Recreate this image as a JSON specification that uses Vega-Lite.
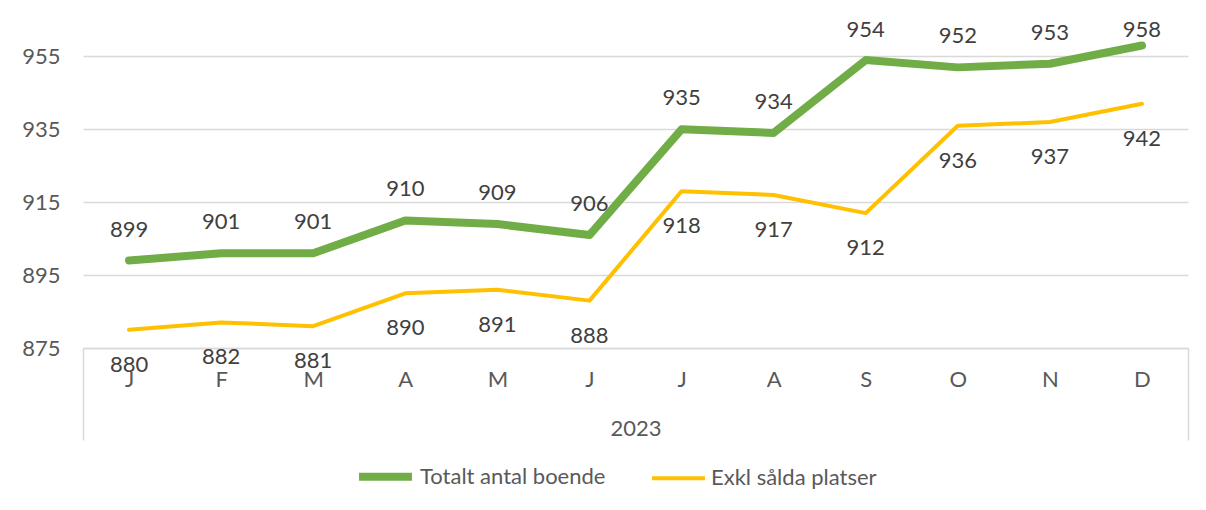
{
  "$schema": "https://vega.github.io/schema/vega-lite/v6.json",
  "width": 1105,
  "height": 328,
  "autosize": "none",
  "padding": {"left": 83, "top": 20, "right": 18, "bottom": 162},
  "background": "white",
  "config": {
    "view": {"stroke": null},
    "font": "Lato",
    "axis": {"labelFont": "Lato", "titleFont": "Lato"},
    "legend": {"labelFont": "Lato"}
  },
  "data": {
    "values": [
      {"month": "jan", "series": "Totalt antal boende", "value": 899},
      {"month": "feb", "series": "Totalt antal boende", "value": 901},
      {"month": "mar", "series": "Totalt antal boende", "value": 901},
      {"month": "apr", "series": "Totalt antal boende", "value": 910},
      {"month": "maj", "series": "Totalt antal boende", "value": 909},
      {"month": "jun", "series": "Totalt antal boende", "value": 906},
      {"month": "jul", "series": "Totalt antal boende", "value": 935},
      {"month": "aug", "series": "Totalt antal boende", "value": 934},
      {"month": "sep", "series": "Totalt antal boende", "value": 954},
      {"month": "okt", "series": "Totalt antal boende", "value": 952},
      {"month": "nov", "series": "Totalt antal boende", "value": 953},
      {"month": "dec", "series": "Totalt antal boende", "value": 958},
      {"month": "jan", "series": "Exkl sålda platser", "value": 880},
      {"month": "feb", "series": "Exkl sålda platser", "value": 882},
      {"month": "mar", "series": "Exkl sålda platser", "value": 881},
      {"month": "apr", "series": "Exkl sålda platser", "value": 890},
      {"month": "maj", "series": "Exkl sålda platser", "value": 891},
      {"month": "jun", "series": "Exkl sålda platser", "value": 888},
      {"month": "jul", "series": "Exkl sålda platser", "value": 918},
      {"month": "aug", "series": "Exkl sålda platser", "value": 917},
      {"month": "sep", "series": "Exkl sålda platser", "value": 912},
      {"month": "okt", "series": "Exkl sålda platser", "value": 936},
      {"month": "nov", "series": "Exkl sålda platser", "value": 937},
      {"month": "dec", "series": "Exkl sålda platser", "value": 942}
    ]
  },
  "encoding": {
    "x": {
      "field": "month",
      "type": "ordinal",
      "sort": ["jan", "feb", "mar", "apr", "maj", "jun", "jul", "aug", "sep", "okt", "nov", "dec"],
      "scale": {"paddingInner": 0, "paddingOuter": 0},
      "axis": {
        "title": "2023",
        "titleFontSize": 22,
        "titleFontWeight": "normal",
        "titleColor": "#595959",
        "titleY": 80,
        "titleBaseline": "middle",
        "labelAngle": 0,
        "labelExpr": "upper(substring(datum.label, 0, 1))",
        "labelFontSize": 22,
        "labelColor": "#595959",
        "labelPadding": -71,
        "domainColor": "#d9d9d9",
        "domainWidth": 1.5,
        "tickBand": "extent",
        "tickSize": 92,
        "tickColor": "#d9d9d9",
        "tickWidth": 1.5,
        "tickOpacity": {"condition": {"test": "datum.value === 'dec' || datum.extra", "value": 1}, "value": 0},
        "grid": false
      }
    },
    "y": {
      "field": "value",
      "type": "quantitative",
      "scale": {"domain": [875, 965], "zero": false, "nice": false},
      "axis": {
        "title": null,
        "values": [875, 895, 915, 935, 955],
        "domain": false,
        "ticks": false,
        "labelPadding": 23,
        "labelFontSize": 22,
        "labelColor": "#595959",
        "gridColor": "#d9d9d9",
        "gridWidth": 1.5
      }
    }
  },
  "layer": [
    {
      "mark": {"type": "line", "strokeCap": "round", "strokeJoin": "round"},
      "encoding": {
        "color": {
          "field": "series",
          "type": "nominal",
          "scale": {"domain": ["Totalt antal boende", "Exkl sålda platser"], "range": ["#70AD47", "#FFC000"]},
          "legend": {
            "title": null,
            "orient": "none",
            "legendX": 272,
            "legendY": 426,
            "direction": "horizontal",
            "symbolType": "stroke",
            "symbolSize": 2800,
            "labelFontSize": 22,
            "labelColor": "#595959",
            "labelLimit": 0,
            "labelOffset": 4,
            "columnPadding": 38
          }
        },
        "strokeWidth": {
          "field": "series",
          "type": "nominal",
          "scale": {"domain": ["Totalt antal boende", "Exkl sålda platser"], "range": [8, 4]},
          "legend": {
            "title": null,
            "orient": "none",
            "legendX": 272,
            "legendY": 426,
            "direction": "horizontal",
            "symbolType": "stroke",
            "symbolSize": 2800,
            "labelFontSize": 22,
            "labelColor": "#595959",
            "labelLimit": 0,
            "labelOffset": 4,
            "columnPadding": 38
          }
        }
      }
    },
    {
      "transform": [
        {"filter": "datum.series === 'Totalt antal boende'"},
        {"calculate": "min(datum.value, 953.8)", "as": "labelPos"}
      ],
      "mark": {"type": "text", "dy": -31, "fontSize": 22, "color": "#404040"},
      "encoding": {
        "y": {"field": "labelPos", "type": "quantitative"},
        "text": {"field": "value", "type": "quantitative"}
      }
    },
    {
      "transform": [{"filter": "datum.series === 'Exkl sålda platser'"}],
      "mark": {"type": "text", "dy": 35, "fontSize": 22, "color": "#404040"},
      "encoding": {"text": {"field": "value", "type": "quantitative"}}
    }
  ]
}
